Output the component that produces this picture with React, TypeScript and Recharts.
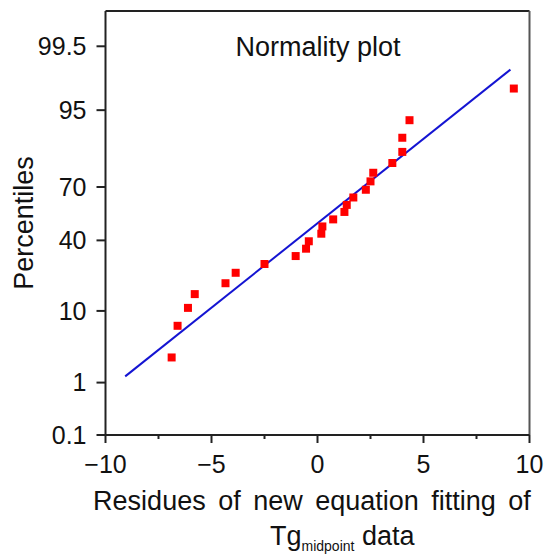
import { ScatterChart, Scatter, XAxis, YAxis, ZAxis, ReferenceLine, Label } from "recharts";

// residues (x) and plotted percentiles (y)
const residues = [
  -6.88, -6.6, -6.11, -5.79, -4.34, -3.86, -2.5, -1.03, -0.54, -0.41, 0.18, 0.23,
  0.74, 1.27, 1.38, 1.69, 2.28, 2.5, 2.63, 3.53, 4.0, 4.0, 4.34, 9.26,
];
const percentiles = [
  2.5, 6.7, 10.8, 15.0, 19.0, 23.4, 27.5, 31.5, 35.4, 39.5, 43.8, 48.0,
  52.1, 56.4, 60.4, 64.5, 68.6, 72.8, 76.8, 80.9, 85.0, 89.3, 93.3, 97.5,
];

// fitted normal line, end points
const fitResidues = [-9.07, 9.1];
const fitPercentiles = [1.27, 98.73];

const xTicks = [-10, -7.5, -5, -2.5, 0, 2.5, 5, 7.5, 10];
const yTickValues = [0.1, 1, 10, 40, 70, 95, 99.5];
const yTickLabels = ["0.1", "1", "10", "40", "70", "95", "99.5"];

// inverse normal cdf (Acklam)
function probit(p: number) {
  const a = [-39.69683028665376, 220.9460984245205, -275.9285104469687, 138.357751867269, -30.66479806614716, 2.506628277459239];
  const b = [-54.47609879822406, 161.5858368580409, -155.6989798598866, 66.80131188771972, -13.28068155288572];
  const c = [-0.007784894002430293, -0.3223964580411365, -2.400758277161838, -2.549671664681055, 4.374664141464968, 2.938163982698783];
  const d = [0.007784695709041462, 0.3224671290700398, 2.445134137142996, 3.754408661907416];
  const plow = 0.02425;
  if (p < plow) {
    const q = Math.sqrt(-2 * Math.log(p));
    return (((((c[0] * q + c[1]) * q + c[2]) * q + c[3]) * q + c[4]) * q + c[5]) /
      ((((d[0] * q + d[1]) * q + d[2]) * q + d[3]) * q + 1);
  }
  if (p <= 1 - plow) {
    const q = p - 0.5;
    const r = q * q;
    return ((((((a[0] * r + a[1]) * r + a[2]) * r + a[3]) * r + a[4]) * r + a[5]) * q) /
      (((((b[0] * r + b[1]) * r + b[2]) * r + b[3]) * r + b[4]) * r + 1);
  }
  const q = Math.sqrt(-2 * Math.log(1 - p));
  return -(((((c[0] * q + c[1]) * q + c[2]) * q + c[3]) * q + c[4]) * q + c[5]) /
    ((((d[0] * q + d[1]) * q + d[2]) * q + d[3]) * q + 1);
}
const toZ = (pct: number) => probit(pct / 100);

const points = residues.map((x, i) => ({ x, z: toZ(percentiles[i]) }));
const fitLine = fitResidues.map((x, i) => ({ x, z: toZ(fitPercentiles[i]) }));
const yTicks = yTickValues.map(toZ);
const yMin = toZ(0.1);
const yMax = toZ(99.9);

const axisColor = "#222";

const XTick = (props: any) => {
  const { x, y, payload } = props;
  const v = payload.value;
  const major = v % 5 === 0;
  const axisY = y - 8;
  return (
    <g>
      <line x1={x} y1={axisY} x2={x} y2={axisY + (major ? 8 : 4)} stroke={axisColor} strokeWidth={2} />
      {major && (
        <text x={x} y={axisY + 38} textAnchor="middle" fontSize={25} fill="#111">
          {v < 0 ? `\u2212${-v}` : v}
        </text>
      )}
    </g>
  );
};

export default function App() {
  return (
    <div
      style={{
        position: "absolute",
        left: 0,
        top: 0,
        width: 547,
        height: 554,
        background: "#fff",
        fontFamily: "'Liberation Sans', Arial, sans-serif",
      }}
    >
      <ScatterChart width={547} height={554} margin={{ top: 11, right: 17.5, bottom: 0, left: 0 }}>
        <XAxis
          type="number"
          dataKey="x"
          domain={[-10, 10]}
          ticks={xTicks}
          interval={0}
          height={119}
          tickSize={8}
          tickMargin={0}
          tickLine={false}
          tick={<XTick />}
          axisLine={{ stroke: axisColor, strokeWidth: 2 }}
        >
          <Label
            content={() => (
              <g fill="#111">
                <text x={312} y={510} textAnchor="middle" fontSize={27} wordSpacing={5}>
                  Residues of new equation fitting of
                </text>
                <text x={270} y={545} textAnchor="start" fontSize={27}>
                  Tg
                  <tspan fontSize={14} dy={6}>midpoint</tspan>
                  <tspan dy={-6}> data</tspan>
                </text>
                <text x={318} y={56} textAnchor="middle" fontSize={27}>
                  Normality plot
                </text>
              </g>
            )}
          />
        </XAxis>
        <YAxis
          type="number"
          dataKey="z"
          domain={[yMin, yMax]}
          ticks={yTicks}
          interval={0}
          width={105.5}
          tickSize={9}
          tickMargin={10}
          tickFormatter={(v: number) => {
            const i = yTicks.findIndex((t) => Math.abs(t - v) < 1e-6);
            return i >= 0 ? yTickLabels[i] : "";
          }}
          tick={{ fontSize: 25, fill: "#111" }}
          tickLine={{ stroke: axisColor, strokeWidth: 2 }}
          axisLine={{ stroke: axisColor, strokeWidth: 2 }}
        >
          <Label
            content={() => (
              <text
                x={33}
                y={223}
                transform="rotate(-90 33 223)"
                textAnchor="middle"
                fontSize={27}
                fill="#111"
              >
                Percentiles
              </text>
            )}
          />
        </YAxis>
        <ZAxis range={[76, 76]} />
        <ReferenceLine y={yMax} stroke={axisColor} strokeWidth={2} />
        <ReferenceLine x={10} stroke="#555" strokeWidth={2} />
        <Scatter
          data={fitLine}
          line={{ stroke: "#1414d2", strokeWidth: 2 }}
          lineType="joint"
          shape={() => <g />}
          isAnimationActive={false}
        />
        <Scatter data={points} fill="#f00" shape="square" isAnimationActive={false} />
      </ScatterChart>
    </div>
  );
}
